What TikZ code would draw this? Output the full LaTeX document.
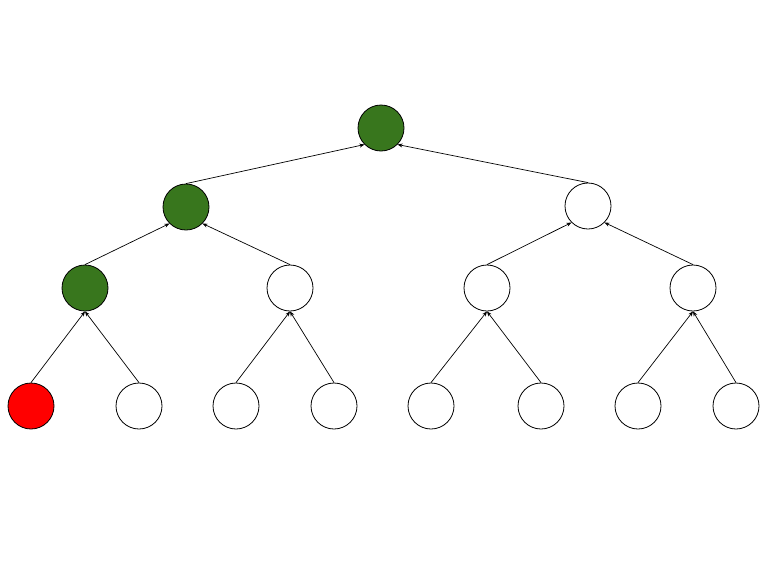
\documentclass[tikz,border=0pt]{standalone}
\usetikzlibrary{arrows.meta}
\definecolor{gfill}{HTML}{38761D}
\begin{document}
\begin{tikzpicture}[x=1pt,y=-1pt,
  vtx/.style={circle,draw=black,line width=0.8pt,minimum size=46pt,inner sep=0pt,fill=white},
  grn/.style={vtx,fill=gfill},
  rd/.style={vtx,fill=red},
  edge/.style={line width=0.7pt,-{Stealth[length=5pt,width=4pt]}}]
\useasboundingbox (0,0) rectangle (768,576);
\node[grn] (r) at (381,128) {};
\node[grn] (a) at (186,207) {};
\node[vtx] (b) at (588,206) {};
\node[grn] (a1) at (85,288) {};
\node[vtx] (a2) at (290,288) {};
\node[vtx] (b1) at (487,288) {};
\node[vtx] (b2) at (693,288) {};
\node[rd] (l1) at (31,406) {};
\node[vtx] (l2) at (139,406) {};
\node[vtx] (l3) at (236,406) {};
\node[vtx] (l4) at (334,406) {};
\node[vtx] (l5) at (431,406) {};
\node[vtx] (l6) at (541,406) {};
\node[vtx] (l7) at (638,406) {};
\node[vtx] (l8) at (736,406) {};
\draw[edge] (a.north) -- (r.south west);
\draw[edge] (b.north) -- (r.south east);
\draw[edge] (a1.north) -- (a.south west);
\draw[edge] (a2.north) -- (a.south east);
\draw[edge] (b1.north) -- (b.south west);
\draw[edge] (b2.north) -- (b.south east);
\draw[edge] (l1.north) -- (a1.south);
\draw[edge] (l2.north) -- (a1.south);
\draw[edge] (l3.north) -- (a2.south);
\draw[edge] (l4.north) -- (a2.south);
\draw[edge] (l5.north) -- (b1.south);
\draw[edge] (l6.north) -- (b1.south);
\draw[edge] (l7.north) -- (b2.south);
\draw[edge] (l8.north) -- (b2.south);
\end{tikzpicture}
\end{document}
